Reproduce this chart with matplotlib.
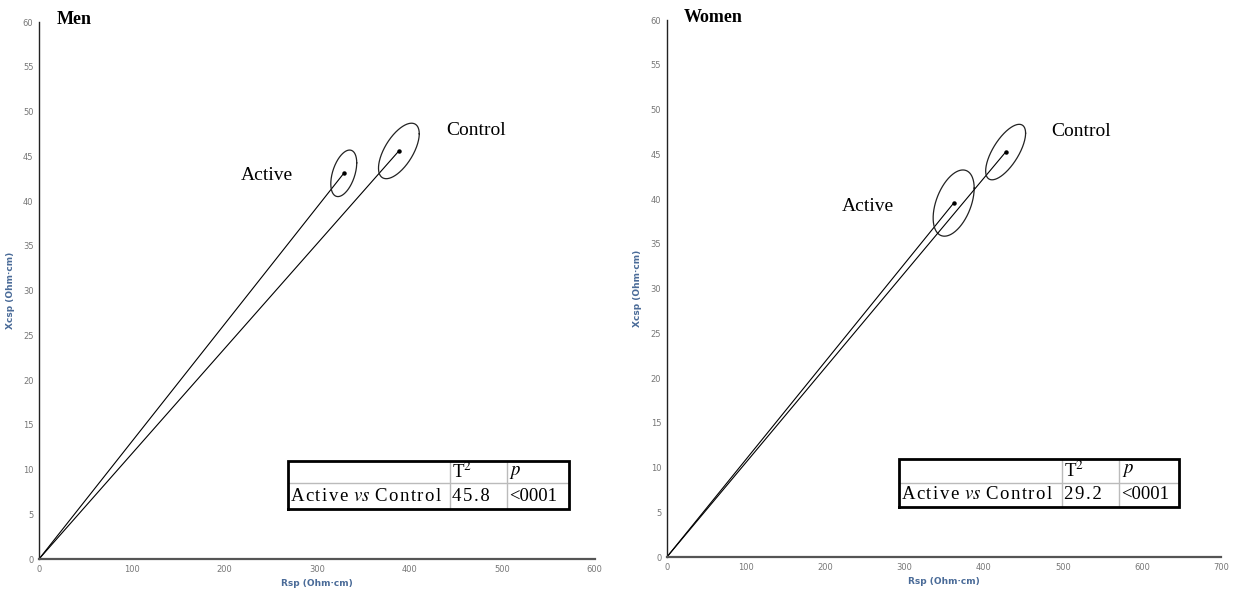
import numpy as np
import matplotlib.pyplot as plt

plt.rcParams['mathtext.fontset'] = 'stix'

# Group means (Rsp, Xcsp) and confidence-ellipse half-widths / correlation
groups = ['Active', 'Control']

men_rsp = [329, 388.5]
men_xcsp = [43.1, 45.6]
men_rsp_hw = [14, 22]
men_xcsp_hw = [2.6, 3.1]
men_rho = [0.45, 0.62]
men_t2 = '45.8'
men_p = '<0001'

women_rsp = [362, 427.6]
women_xcsp = [39.55, 45.25]
women_rsp_hw = [25.9, 25.2]
women_xcsp_hw = [3.7, 3.1]
women_rho = [0.45, 0.68]
women_t2 = '29.2'
women_p = '<0001'

serif = ['Liberation Serif', 'DejaVu Serif']
label_blue = '#4a6b98'
HAIR = '\u200a'
GAP = '\u2009\u200a'


def spaced(s):
    # widen the tracking the way the original table text is set
    return HAIR.join(s)


def ellipse_xy(cx, cy, hx, hy, rho, n=300):
    t = np.linspace(0, 2 * np.pi, n)
    return cx + hx * np.cos(t), cy + hy * np.cos(t - np.arccos(rho))


def draw_table(ax, cols, rows, t2, p):
    x0, x1, x2, x3 = cols
    y0, y1, y2 = rows
    tr = ax.transAxes
    # inner grid
    ax.plot([x0, x3], [y1, y1], color='#bbbbbb', lw=1, transform=tr, zorder=5)
    ax.plot([x1, x1], [y0, y2], color='#bbbbbb', lw=1, transform=tr, zorder=5)
    ax.plot([x2, x2], [y0, y2], color='#bbbbbb', lw=1, transform=tr, zorder=5)
    # outer border
    ax.plot([x0, x3, x3, x0, x0], [y0, y0, y2, y2, y0], color='black', lw=2,
            transform=tr, zorder=6, solid_joinstyle='miter')
    ym_top = (y1 + y2) / 2
    ym_bot = (y0 + y1) / 2
    kw = dict(transform=tr, family=serif, fontsize=13.5, va='center', zorder=7)
    ax.text(x1 + 0.004, ym_top, r'T$^2$', **kw)
    ax.text(x2 + 0.004, ym_top, r'$\mathit{p}$', **kw)
    row = spaced('Active') + GAP + '$\\mathit{vs}$' + GAP + spaced('Control')
    ax.text(x0 + 0.004, ym_bot, row, **kw)
    ax.text(x1 + 0.004, ym_bot, spaced(t2), **kw)
    ax.text(x2 + 0.004, ym_bot, p, **kw)


def panel(ax, title, rsp, xcsp, rsp_hw, xcsp_hw, rho, xmax, label_pos,
          title_x, table_cols, table_rows, t2, p):
    for i in range(len(groups)):
        ax.plot([0, rsp[i]], [0, xcsp[i]], color='black', lw=0.8)
        ex, ey = ellipse_xy(rsp[i], xcsp[i], rsp_hw[i], xcsp_hw[i], rho[i])
        ax.plot(ex, ey, color='#222222', lw=0.9)
        ax.plot(rsp[i], xcsp[i], 'o', color='black', ms=2.2)
        ax.text(label_pos[i][0], label_pos[i][1], groups[i], family=serif,
                fontsize=14, ha='center', va='center')

    ax.set_xlim(0, xmax)
    ax.set_ylim(0, 60)
    ax.set_xticks(np.arange(0, xmax + 1, 100))
    ax.set_yticks(np.arange(0, 61, 5))
    ax.tick_params(length=0, labelsize=6, labelcolor='#777777', pad=4)
    for s in ['top', 'right']:
        ax.spines[s].set_visible(False)
    ax.spines['left'].set_color('#222222')
    ax.spines['left'].set_linewidth(1)
    ax.spines['bottom'].set_color('#555555')
    ax.spines['bottom'].set_linewidth(1.6)
    ax.set_xlabel('Rsp (Ohm·cm)', fontsize=6.5, color=label_blue,
                  fontweight='bold', labelpad=4)
    ax.set_ylabel('Xcsp (Ohm·cm)', fontsize=6.5, color=label_blue,
                  fontweight='bold', labelpad=6)
    ax.text(title_x, 1.005, title, transform=ax.transAxes, family=serif,
            fontsize=13, fontweight='bold', va='center', ha='left')
    draw_table(ax, table_cols, table_rows, t2, p)


fig = plt.figure(figsize=(12.35, 5.92), dpi=100)
ax1 = fig.add_axes([0.0316, 0.0557, 0.450, 0.907])
ax2 = fig.add_axes([0.540, 0.0591, 0.449, 0.907])

panel(ax1, 'Men', men_rsp, men_xcsp, men_rsp_hw, men_xcsp_hw, men_rho, 600,
      [(246, 42.9), (471.6, 47.9)], 0.032,
      (0.448, 0.739, 0.842, 0.953), (0.093, 0.141, 0.1825), men_t2, men_p)
panel(ax2, 'Women', women_rsp, women_xcsp, women_rsp_hw, women_xcsp_hw,
      women_rho, 700, [(253.5, 39.2), (523.4, 47.6)], 0.031,
      (0.418, 0.712, 0.816, 0.924), (0.093, 0.138, 0.1825), women_t2, women_p)

fig.savefig('out.png', dpi=100, facecolor='white')
